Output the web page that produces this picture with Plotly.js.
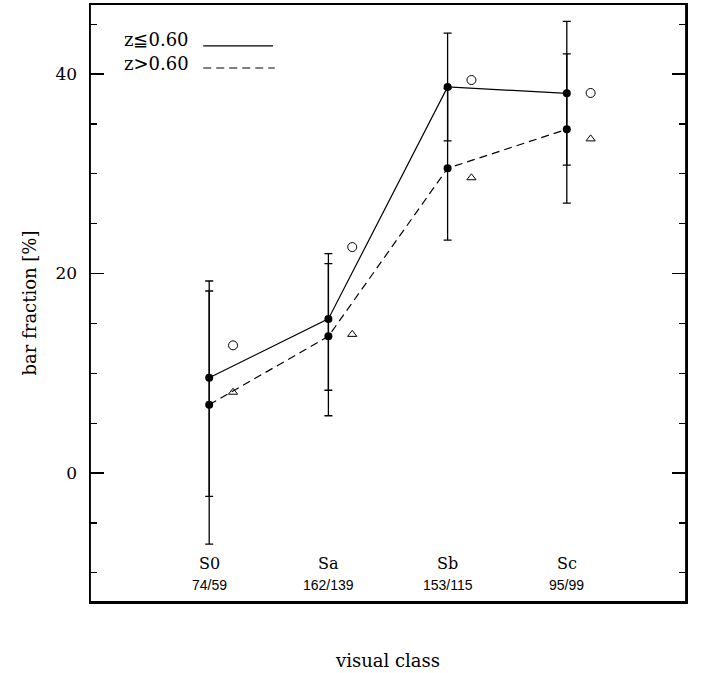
<!DOCTYPE html>
<html>
<head>
<meta charset="utf-8">
<script src="https://cdn.plot.ly/plotly-3.0.1.min.js"></script>
<style>html,body{margin:0;padding:0;background:#fff}#chart{width:701px;height:673px}</style>
</head>
<body>
<div id="chart"></div>
<script>
const classes = ['S0', 'Sa', 'Sb', 'Sc'];
const counts = ['74/59', '162/139', '153/115', '95/99'];
const xpos = [1, 2, 3, 4];
const xposOpen = [1.2, 2.2, 3.2, 4.2];

// z <= 0.60 (solid line, filled circles)
const lowZ = [9.55, 15.45, 38.7, 38.07];
const lowZErrPlus = [9.7, 6.55, 5.4, 7.2];
const lowZErrMinus = [11.9, 7.15, 5.4, 7.2];

// z > 0.60 (dashed line, filled circles)
const highZ = [6.85, 13.7, 30.55, 34.46];
const highZErrPlus = [11.4, 7.3, 8.0, 7.55];
const highZErrMinus = [13.97, 7.96, 7.2, 7.4];

// open symbols
const lowZAlt = [12.8, 22.65, 39.4, 38.1];
const highZAlt = [8.1, 13.9, 29.6, 33.5];

const serif = 'DejaVu Serif, Liberation Serif, serif';
const sans = 'Liberation Sans, Arial, sans-serif';

const traces = [
  {
    x: xpos, y: lowZ, type: 'scatter', mode: 'lines+markers',
    line: {color: '#000', width: 1.2},
    marker: {color: '#000', size: 8, symbol: 'circle'},
    error_y: {type: 'data', symmetric: false, array: lowZErrPlus, arrayminus: lowZErrMinus,
      color: '#000', thickness: 1.3, width: 4},
    showlegend: false, hoverinfo: 'skip'
  },
  {
    x: xpos, y: highZ, type: 'scatter', mode: 'lines+markers',
    line: {color: '#000', width: 1.2, dash: '8px,5px'},
    marker: {color: '#000', size: 8, symbol: 'circle'},
    error_y: {type: 'data', symmetric: false, array: highZErrPlus, arrayminus: highZErrMinus,
      color: '#000', thickness: 1.3, width: 4},
    showlegend: false, hoverinfo: 'skip'
  },
  {
    x: xposOpen, y: lowZAlt, type: 'scatter', mode: 'markers',
    marker: {color: '#000', size: 9, symbol: 'circle-open', line: {width: 1}},
    showlegend: false, hoverinfo: 'skip'
  },
  {
    x: xposOpen, y: highZAlt, type: 'scatter', mode: 'markers',
    marker: {color: '#000', size: 8, symbol: 'triangle-up-open', line: {width: 1}},
    showlegend: false, hoverinfo: 'skip'
  }
];

const annotations = [];
classes.forEach((c, i) => {
  annotations.push({x: xpos[i], y: 0.065, xref: 'x', yref: 'paper', text: c, showarrow: false,
    xanchor: 'center', yanchor: 'middle', font: {family: serif, size: 16, color: '#000'}});
  annotations.push({x: xpos[i], y: 0.028, xref: 'x', yref: 'paper', text: counts[i], showarrow: false,
    xanchor: 'center', yanchor: 'middle', font: {family: sans, size: 14, color: '#000'}});
});
annotations.push({x: 0.053, y: 0.94, xref: 'paper', yref: 'paper', text: 'z≦0.60', showarrow: false,
  xanchor: 'left', yanchor: 'middle', font: {family: serif, size: 18, color: '#000'}});
annotations.push({x: 0.053, y: 0.901, xref: 'paper', yref: 'paper', text: 'z>0.60', showarrow: false,
  xanchor: 'left', yanchor: 'middle', font: {family: serif, size: 18, color: '#000'}});

const shapes = [
  {type: 'line', xref: 'paper', yref: 'paper', x0: 0.19, x1: 0.307, y0: 0.93, y1: 0.93,
    line: {color: '#000', width: 1.2}},
  {type: 'line', xref: 'paper', yref: 'paper', x0: 0.19, x1: 0.31, y0: 0.893, y1: 0.893,
    line: {color: '#000', width: 1.2, dash: '8px,5px'}},
  {type: 'rect', xref: 'paper', yref: 'paper', x0: 0, x1: 1, y0: 0, y1: 1,
    line: {color: '#000', width: 1.8}, fillcolor: 'rgba(0,0,0,0)', layer: 'above'}
];

const layout = {
  width: 701, height: 673,
  margin: {l: 90, r: 15, t: 4, b: 71},
  paper_bgcolor: '#fff', plot_bgcolor: '#fff',
  showlegend: false,
  xaxis: {
    range: [0, 5], showticklabels: false, ticks: '', showgrid: false, zeroline: false,
    showline: true, linecolor: '#000', linewidth: 1.5, mirror: true,
    title: {text: 'visual class', font: {family: serif, size: 18, color: '#000'}, standoff: 52}
  },
  yaxis: {
    range: [-12.93, 47.02], tickvals: [0, 20, 40], ticktext: ['0', '20', '40'],
    ticks: 'inside', ticklen: 14, tickwidth: 1.2, tickcolor: '#000',
    minor: {tickvals: [-10, -5, 5, 10, 15, 25, 30, 35, 45], ticks: 'inside', ticklen: 7, tickwidth: 1.2, tickcolor: '#000'},
    showgrid: false, zeroline: false,
    showline: true, linecolor: '#000', linewidth: 1.5, mirror: 'ticks',
    tickfont: {family: serif, size: 17, color: '#000'},
    ticklabelstandoff: 8,
    title: {text: 'bar fraction [%]', font: {family: serif, size: 18, color: '#000'}, standoff: 14}
  },
  annotations: annotations,
  shapes: shapes
};

Plotly.newPlot('chart', traces, layout, {displayModeBar: false, staticPlot: true});
</script>
</body>
</html>
